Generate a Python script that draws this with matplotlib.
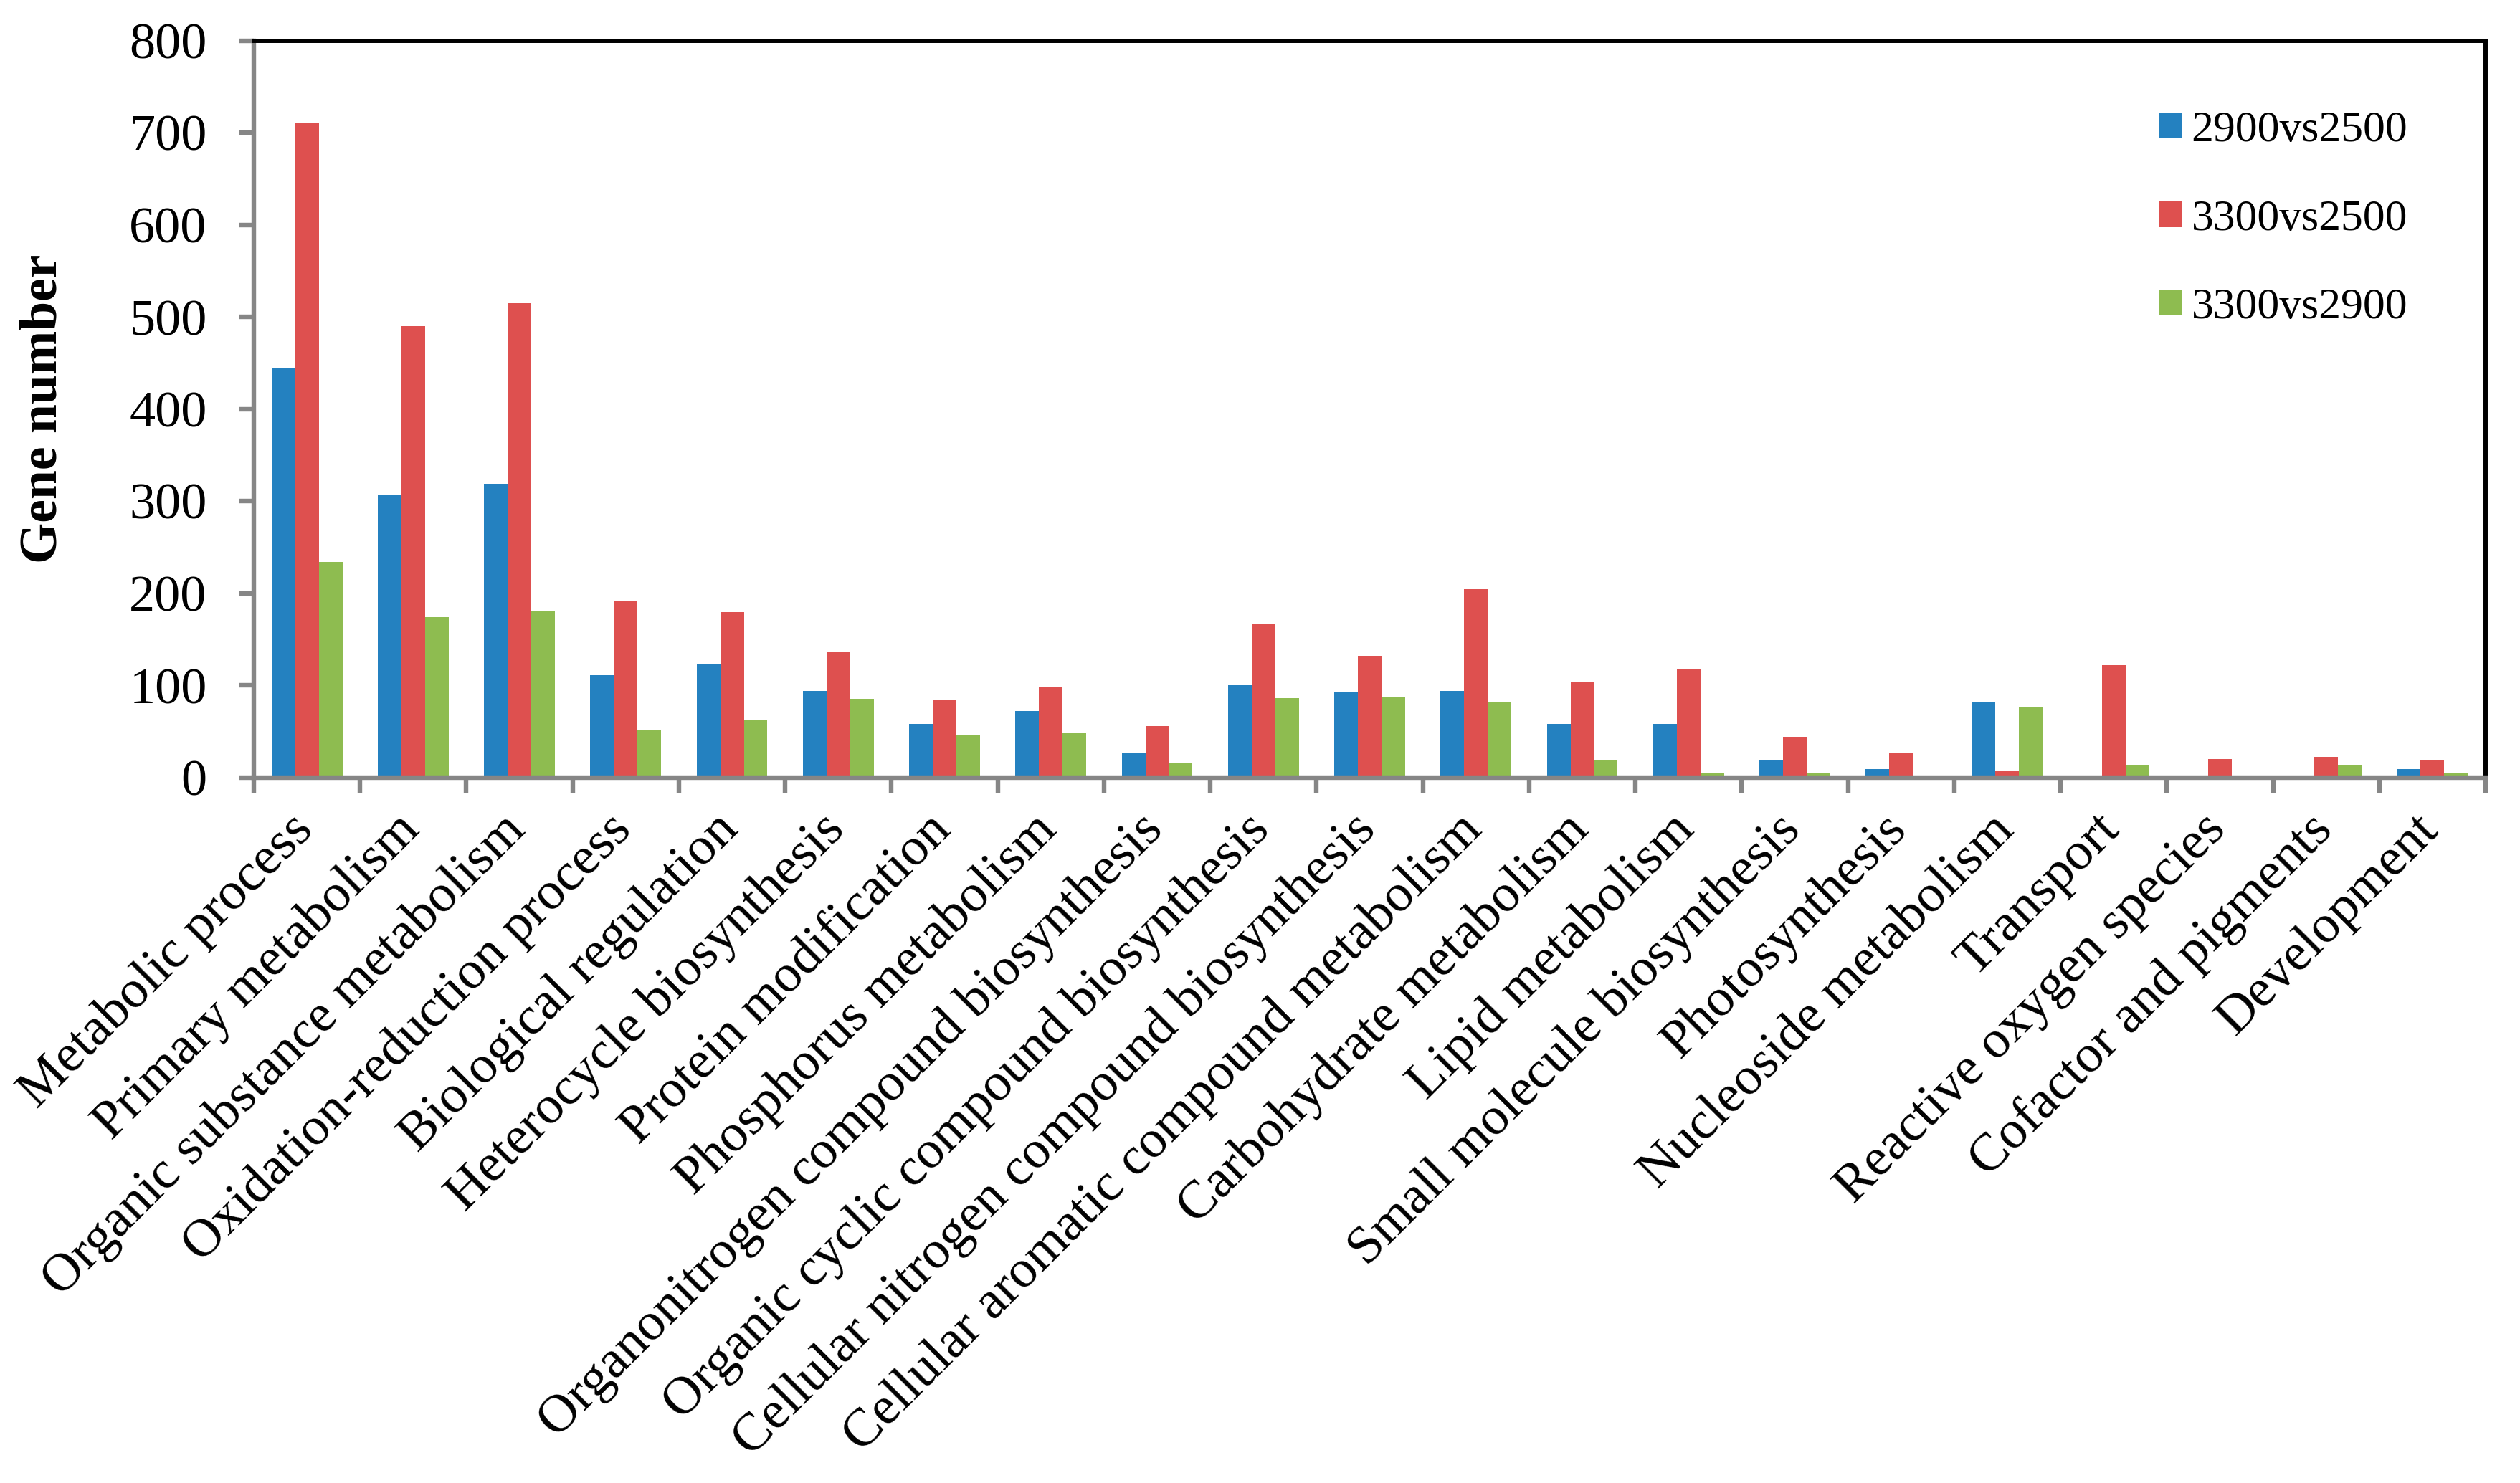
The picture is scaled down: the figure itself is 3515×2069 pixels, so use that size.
import matplotlib
matplotlib.use("Agg")
import matplotlib.pyplot as plt
import matplotlib.transforms as mtransforms
import numpy as np

categories = [
    "Metabolic process", "Primary metabolism", "Organic substance metabolism",
    "Oxidation-reduction process", "Biological regulation", "Heterocycle biosynthesis",
    "Protein modification", "Phosphorus metabolism", "Organonitrogen compound biosynthesis",
    "Organic cyclic compound biosynthesis", "Cellular nitrogen compound biosynthesis",
    "Cellular aromatic compound metabolism", "Carbohydrate metabolism", "Lipid metabolism",
    "Small molecule biosynthesis", "Photosynthesis", "Nucleoside metabolism", "Transport",
    "Reactive oxygen species", "Cofactor and pigments", "Development",
]
series_names = ["2900vs2500", "3300vs2500", "3300vs2900"]
v_2900vs2500 = [445, 307, 319, 111, 123, 94, 58, 72, 26, 101, 93, 94, 58, 58, 19, 9, 82, 0, 2, 2, 9]
v_3300vs2500 = [711, 490, 515, 191, 179, 136, 84, 98, 56, 166, 132, 204, 103, 117, 44, 27, 7, 122, 20, 22, 19]
v_3300vs2900 = [234, 174, 181, 52, 62, 85, 46, 49, 16, 86, 87, 82, 19, 4, 5, 0, 76, 14, 2, 14, 4]
y_ticks = [0, 100, 200, 300, 400, 500, 600, 700, 800]

colors = ["#2481C0", "#DE504F", "#8EBC50"]
serif = ["Liberation Serif", "DejaVu Serif"]
plt.rcParams["font.family"] = serif

W, H = 3515, 2069
fig = plt.figure(figsize=(W / 100, H / 100), dpi=100)
left, right, top, bottom = 354, 3467, 56.5, 1084.5
ax = fig.add_axes([left / W, 1 - bottom / H, (right - left) / W, (bottom - top) / H])

x = np.arange(len(categories))
bw = 1 / 4.5
for i, (vals, name, c) in enumerate(zip([v_2900vs2500, v_3300vs2500, v_3300vs2900], series_names, colors)):
    ax.bar(x + (i - 1) * bw, vals, width=bw, color=c, label=name, linewidth=0)

ax.set_xlim(-0.5, len(categories) - 0.5)
ax.set_ylim(0, 800)
ax.set_yticks(y_ticks)
ax.set_yticklabels([str(t) for t in y_ticks], fontsize=52)

gray = "#868686"
for s in ["left", "bottom"]:
    ax.spines[s].set_color(gray)
    ax.spines[s].set_linewidth(4.6)
for s in ["top", "right"]:
    ax.spines[s].set_color("black")
    ax.spines[s].set_linewidth(4.3)
ax.spines["bottom"].set_zorder(5)

ax.tick_params(axis="y", which="major", direction="out", length=15, width=4.6, color=gray, pad=32)
ax.set_xticks(x)
ax.set_xticks(np.arange(-0.5, len(categories), 1), minor=True)
ax.tick_params(axis="x", which="major", length=0, pad=28)
ax.tick_params(axis="x", which="minor", direction="out", length=16, width=4.6, color=gray)
ax.set_xticklabels(categories, rotation=45, ha="right", va="top", fontsize=54)
offset = mtransforms.ScaledTranslation(22 / 100, 0, fig.dpi_scale_trans)
for lbl in ax.get_xticklabels():
    lbl.set_transform(lbl.get_transform() + offset)

fig.text(61 / W, 1 - ((top + bottom) / 2) / H, "Gene number", rotation=90,
         ha="center", va="center", fontsize=53, fontweight="bold")

leg = ax.legend(loc="upper left", bbox_to_anchor=(3012 / W, 1 - 155 / H),
                bbox_transform=fig.transFigure, frameon=False, fontsize=44.5,
                handlelength=0.5, handleheight=0.5, handletextpad=0.22,
                labelspacing=1.1, borderpad=0, borderaxespad=0)

fig.savefig("out.png", dpi=100, facecolor="white")
